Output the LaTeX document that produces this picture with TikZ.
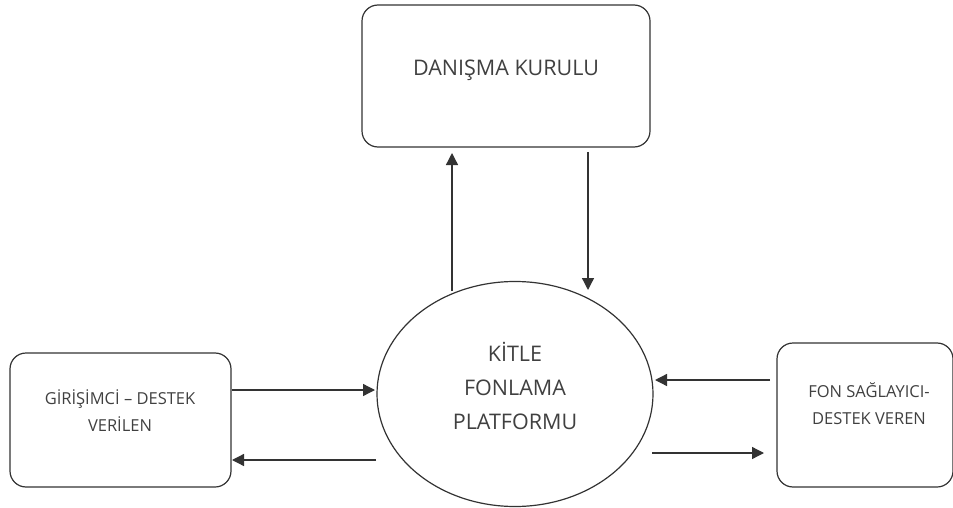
\documentclass[tikz,border=0pt]{standalone}
\usepackage{fontspec}
\setmainfont{Open Sans}
\usetikzlibrary{shapes.geometric,arrows.meta}
\definecolor{ln}{HTML}{333333}
\definecolor{tx}{HTML}{404040}
\tikzset{
  box/.style={draw=ln, line width=1.2pt, rounded corners=16pt, inner sep=0pt},
  lbl/.style={text=tx, font=\fontsize{21.5}{34}\selectfont, align=center, inner sep=0pt},
  sml/.style={text=tx, font=\fontsize{16.5}{27}\selectfont, align=center, inner sep=0pt},
  arr/.style={draw=ln, line width=1.3pt, -{Triangle[length=12pt,width=12pt]}}
}
\begin{document}
\begin{tikzpicture}[x=1pt,y=1pt]
\useasboundingbox (0,0) rectangle (953,-508);
% boxes
\node[box, minimum width=288pt, minimum height=142pt] (top) at (506,-76) {};
\node[lbl] (toptxt) at (506,-70) {DANIŞMA KURULU};
\node[draw=ln, line width=1.2pt, ellipse, minimum width=276pt, minimum height=225pt, inner sep=0pt] (ell) at (515,-394) {};
\node[lbl] (elltxt) at (515,-386) {KİTLE\\FONLAMA\\PLATFORMU};
\node[box, minimum width=221pt, minimum height=134pt] (lb) at (120.5,-420) {};
\node[sml] (lbtxt) at (120,-411) {GİRİŞİMCİ – DESTEK\\VERİLEN};
\node[box, minimum width=176pt, minimum height=144pt] (rb) at (865,-415) {};
\node[sml] (rbtxt) at (869,-404) {FON SAĞLAYICI-\\DESTEK VEREN};
% connector endpoints
\coordinate (e1) at (452,-291);
\coordinate (t1) at (452,-153);
\coordinate (t2) at (588,-152);
\coordinate (e2) at (588,-290);
\coordinate (e3) at (375,-390);
\coordinate (e4) at (376,-460);
\coordinate (e5) at (655,-380);
\coordinate (e6) at (652,-453);
\coordinate (r5) at (770,-380);
\coordinate (r6) at (764,-453);
\coordinate (l3) at (232,-390);
\coordinate (l4) at (232,-460);
% connectors
\draw[arr] (e1) -- (t1);
\draw[arr] (t2) -- (e2);
\draw[arr] (l3) -- (e3);
\draw[arr] (e4) -- (l4);
\draw[arr] (r5) -- (e5);
\draw[arr] (e6) -- (r6);
\end{tikzpicture}
\end{document}
